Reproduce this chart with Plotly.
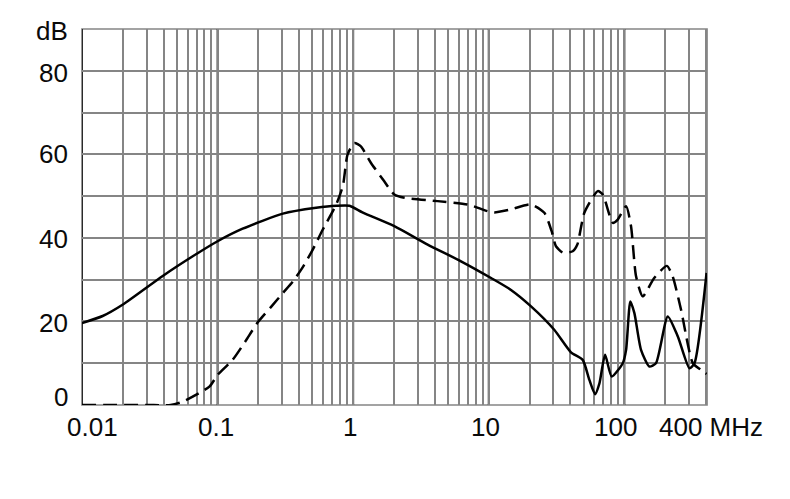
import numpy as np
import plotly.graph_objects as go

# Solid curve (frequency MHz, level dB)
solid_f = [0.01, 0.0142, 0.0199, 0.0394, 0.0656, 0.1, 0.153, 0.303, 0.533, 0.75, 0.94,
           1.17, 2.01, 3.54, 6.24, 10.4, 14.5, 20.5, 30.4, 40.4, 49.3, 55.2, 60.8, 65.5,
           72.1, 80.7, 97.3, 103, 110.7, 118.6, 132.7, 153, 171, 209, 248, 302, 329, 404]
solid_db = [19.6, 21.3, 24.0, 30.9, 35.6, 39.2, 42.2, 45.8, 47.2, 47.7, 47.7,
            46.1, 42.8, 38.4, 34.4, 30.4, 27.6, 23.6, 18.0, 12.6, 10.8, 6.0, 2.6, 5.2,
            12.0, 6.8, 10.0, 13.2, 24.8, 22.0, 13.2, 9.2, 10.0, 21.2, 16.4, 8.8, 10.0, 31.6]

# Dashed curve
dash_f = [0.01, 0.03, 0.045, 0.0553, 0.087, 0.1, 0.129, 0.16, 0.198, 0.25, 0.303, 0.36,
          0.425, 0.5, 0.597, 0.75, 0.84, 0.91, 1.02, 1.14, 1.35, 1.69, 2.01, 2.39, 4.2, 6.98,
          9.8, 11.0, 14.5, 20.5, 25.7, 29.1, 31.3, 35.1, 41.6, 45, 50.7, 63.7, 69.3, 82.2,
          89.4, 103, 112, 122, 136.7, 166, 206, 227, 262, 320, 368, 404]
dash_db = [0.0, 0.0, 0.0, 0.8, 4.4, 7.2, 10.8, 15.2, 19.8, 23.6, 26.8, 29.6,
           33.0, 37.0, 42.0, 48.0, 52.5, 60.0, 62.7, 61.9, 58.0, 53.6, 50.4, 49.6, 48.8, 48.0,
           46.4, 46.1, 46.8, 48.0, 46.0, 41.6, 38.0, 36.5, 36.8, 38.4, 46.0, 51.2, 50.4, 43.6,
           44.4, 47.6, 42.8, 30.8, 26.0, 30.4, 33.3, 30.8, 22.8, 10.0, 8.4, 7.4]

# Axis labels
y_labels = ["0", "20", "40", "60", "80"]
y_label_vals = [0, 20, 40, 60, 80]
x_labels = ["0.01", "0.1", "1", "10", "100", "400 MHz"]
x_label_vals = [0.01, 0.1, 1, 10, 100, 400]
decades = [0.01, 0.1, 1, 10, 100]

FONT = "Liberation Sans, Arial, sans-serif"
GRID = "#858585"

fig = go.Figure()
fig.add_trace(go.Scatter(x=solid_f, y=solid_db, mode="lines",
                         line=dict(color="#000000", width=2.5, shape="spline", smoothing=0.6),
                         showlegend=False, hoverinfo="skip"))
fig.add_trace(go.Scatter(x=dash_f, y=dash_db, mode="lines",
                         line=dict(color="#000000", width=2.5, shape="spline", smoothing=0.6,
                                   dash="14px,7px"),
                         showlegend=False, hoverinfo="skip"))

grid_vals = [m * 10.0 ** e for e in range(-2, 3) for m in range(1, 10) if m * 10.0 ** e <= 400]

# the page body has an 8px margin, so the figure is offset by 8px
fig.update_layout(
    width=790, height=499, autosize=False,
    margin=dict(l=74, r=91, t=21, b=102),
    paper_bgcolor="white", plot_bgcolor="white",
    xaxis=dict(type="log", range=[-2, np.log10(407)], tickvals=grid_vals,
               showticklabels=False, ticks="", showgrid=True, gridcolor=GRID, gridwidth=1.7,
               zeroline=False, showline=False, fixedrange=True),
    yaxis=dict(range=[0, 90], tickvals=list(range(0, 91, 10)), showticklabels=False, ticks="",
               showgrid=True, gridcolor=GRID, gridwidth=1.7, zeroline=False, showline=False,
               fixedrange=True),
)

# border
fig.add_shape(type="rect", xref="paper", yref="paper", x0=0, x1=1, y0=0, y1=1,
              line=dict(color=GRID, width=1.7), layer="below")
for d in decades:
    fig.add_shape(type="line", xref="x", yref="paper", x0=d, x1=d, y0=0, y1=1,
                  line=dict(color="#2a2a2a", width=2), layer="below")

font = dict(family=FONT, size=26, color="#0a0a0a")
y_shifts = [8, -2, -1, 0, -2]
for lab, v, ys in zip(y_labels, y_label_vals, y_shifts):
    fig.add_annotation(text=lab, xref="paper", x=0, yref="y", y=v, xanchor="right",
                       yanchor="middle", xshift=-12, yshift=ys, showarrow=False, font=font)
fig.add_annotation(text="dB", xref="paper", x=0, yref="paper", y=1, xanchor="right",
                   yanchor="middle", xshift=-12, yshift=-2, showarrow=False, font=font)

x_shifts = [10, -2, -3, -3, -9, 5]
for lab, v, xs in zip(x_labels, x_label_vals, x_shifts):
    fig.add_annotation(text=lab, xref="x", x=np.log10(v), yref="paper", y=0, xanchor="center",
                       yanchor="middle", xshift=xs, yshift=-22, showarrow=False, font=font)

fig.write_html("out.html")
